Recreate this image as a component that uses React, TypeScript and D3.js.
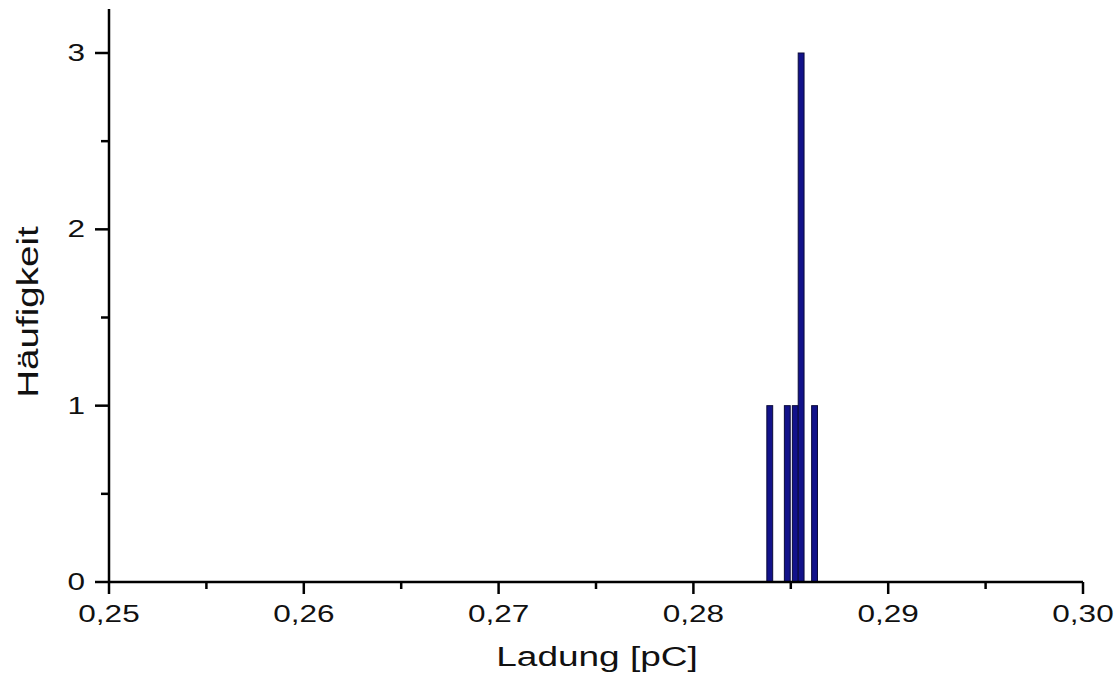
import React from "react";
import * as d3 from "d3";

// Histogram of measured charge values
const binCenters = [0.28392, 0.28482, 0.28523, 0.28553, 0.28622];
const binCounts = [1, 1, 1, 3, 1];
const binWidth = 0.0003;

const xMajorTicks = [0.25, 0.26, 0.27, 0.28, 0.29, 0.3];
const xMinorTicks = [0.255, 0.265, 0.275, 0.285, 0.295];
const yMajorTicks = [0, 1, 2, 3];
const yMinorTicks = [0.5, 1.5, 2.5];

const W = 1119;
const H = 676;
const left = 109;
const right = 1083;
const bottom = 582;
const top = 9;
const stretch = 1.37; // wide lettering

export default function App() {
  const x = d3.scaleLinear().domain([0.25, 0.3]).range([left, right]);
  const y = d3.scaleLinear().domain([0, 3]).range([bottom, 53]);
  const fmt = (v: number) => d3.format(".2f")(v).replace(".", ",");
  const font = "'Liberation Sans', Arial, sans-serif";

  return (
    <svg
      width={W}
      height={H}
      style={{ position: "absolute", left: 0, top: 0, background: "#fff" }}
      fontFamily={font}
    >
      {/* bars */}
      {binCenters.map((c, i) => {
        const x0 = x(c - binWidth / 2);
        const x1 = x(c + binWidth / 2);
        return (
          <rect
            key={i}
            x={x0}
            y={y(binCounts[i])}
            width={x1 - x0}
            height={bottom - y(binCounts[i])}
            fill="#12128a"
            stroke="#0a0a3a"
            strokeWidth={1}
          />
        );
      })}

      {/* axes */}
      <line x1={left} x2={right} y1={bottom} y2={bottom} stroke="#000" strokeWidth={2.5} />
      <line x1={left} x2={left} y1={top} y2={bottom} stroke="#000" strokeWidth={2.5} />

      {xMajorTicks.map((t) => (
        <g key={"xm" + t}>
          <line x1={x(t)} x2={x(t)} y1={bottom} y2={bottom + 12} stroke="#000" strokeWidth={2.5} />
          <text
            transform={`translate(${x(t)}, 622) scale(${stretch}, 1)`}
            textAnchor="middle"
            fontSize={23}
            fill="#111"
          >
            {fmt(t)}
          </text>
        </g>
      ))}
      {xMinorTicks.map((t) => (
        <line key={"xn" + t} x1={x(t)} x2={x(t)} y1={bottom} y2={bottom + 7} stroke="#000" strokeWidth={2.5} />
      ))}

      {yMajorTicks.map((t) => (
        <g key={"ym" + t}>
          <line x1={left - 14} x2={left} y1={y(t)} y2={y(t)} stroke="#000" strokeWidth={2.5} />
          <text
            transform={`translate(85, ${y(t) + 8}) scale(${stretch}, 1)`}
            textAnchor="end"
            fontSize={23}
            fill="#111"
          >
            {t}
          </text>
        </g>
      ))}
      {yMinorTicks.map((t) => (
        <line key={"yn" + t} x1={left - 8} x2={left} y1={y(t)} y2={y(t)} stroke="#000" strokeWidth={2.5} />
      ))}

      {/* axis titles */}
      <text
        transform={`translate(597, 666) scale(${stretch}, 1)`}
        textAnchor="middle"
        fontSize={27}
        fill="#111"
      >
        Ladung [pC]
      </text>
      <text
        transform={`translate(38, 312) rotate(-90) scale(1.33, 1)`}
        textAnchor="middle"
        fontSize={29}
        fill="#111"
      >
        Häufigkeit
      </text>
    </svg>
  );
}
